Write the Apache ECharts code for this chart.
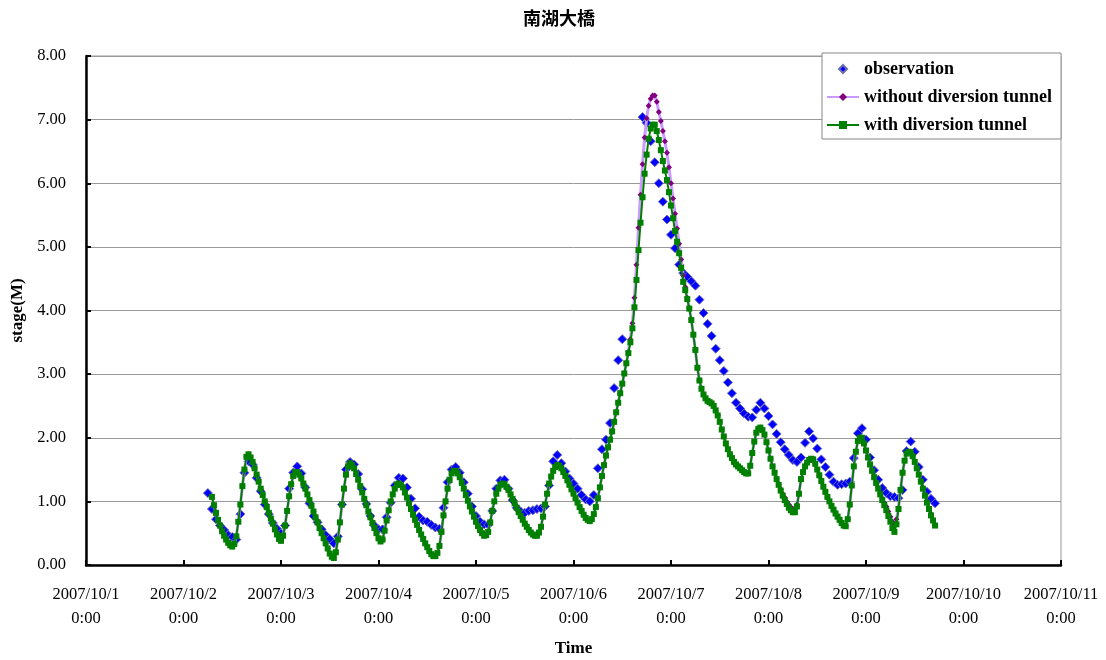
<!DOCTYPE html>
<html>
<head>
<meta charset="utf-8">
<script src="https://cdn.jsdelivr.net/npm/echarts@6.0.0/dist/echarts.min.js"></script>
<style>
html,body{margin:0;padding:0;background:#fff;}
#chart{width:1106px;height:660px;}
</style>
</head>
<body>
<div id="chart"></div>
<script>
// hours counted from 2007/10/1 0:00
const obsStartHour = 30;   // observation: hourly
const obsStepHour = 1;
const simStartHour = 31;   // simulations: every half hour
const simStepHour = 0.5;

const dayLabels = ['2007/10/1','2007/10/2','2007/10/3','2007/10/4','2007/10/5','2007/10/6','2007/10/7','2007/10/8','2007/10/9','2007/10/10','2007/10/11'];
const timeLabel = '0:00';

const observation = [
  1.13,0.88,0.72,0.62,0.55,0.47,0.44,0.40,0.80,1.45,
  1.63,1.58,1.37,1.16,0.95,0.80,0.66,0.57,0.50,0.62,
  1.20,1.45,1.55,1.44,1.22,0.97,0.77,0.67,0.56,0.47,
  0.41,0.34,0.45,0.95,1.50,1.62,1.58,1.43,1.19,0.96,
  0.77,0.62,0.56,0.56,0.75,0.98,1.25,1.37,1.36,1.22,
  1.04,0.89,0.76,0.70,0.68,0.63,0.59,0.57,0.90,1.30,
  1.50,1.54,1.45,1.30,1.12,0.92,0.77,0.68,0.64,0.63,
  0.85,1.20,1.33,1.34,1.20,1.02,0.90,0.84,0.82,0.85,
  0.86,0.88,0.89,0.92,1.25,1.63,1.73,1.60,1.47,1.36,
  1.28,1.20,1.10,1.03,1.00,1.10,1.52,1.82,1.97,2.23,
  2.78,3.22,3.55,null,null,null,null,7.04,6.95,6.66,
  6.33,6.00,5.71,5.43,5.19,4.98,4.72,4.59,4.53,4.46,
  4.39,4.17,3.96,3.79,3.60,3.40,3.22,3.05,2.87,2.70,
  2.55,2.46,2.38,2.33,2.32,2.44,2.55,2.46,2.34,2.21,
  2.06,1.93,1.82,1.73,1.65,1.62,1.69,1.92,2.10,1.99,
  1.83,1.66,1.54,1.42,1.31,1.26,1.27,1.28,1.31,1.68,
  2.07,2.15,1.97,1.69,1.49,1.34,1.21,1.13,1.08,1.07,
  1.05,1.18,1.79,1.94,1.78,1.54,1.34,1.15,1.04,0.97
];

const withoutTunnel = [
  1.07,0.94,0.82,0.71,0.62,0.53,0.46,0.40,0.35,0.31,
  0.29,0.33,0.45,0.68,0.95,1.24,1.50,1.70,1.74,1.69,
  1.62,1.52,1.42,1.31,1.20,1.10,1.00,0.91,0.82,0.73,
  0.65,0.56,0.48,0.41,0.38,0.46,0.62,0.85,1.08,1.27,
  1.40,1.46,1.46,1.42,1.36,1.28,1.20,1.11,1.02,0.93,
  0.84,0.75,0.67,0.58,0.50,0.42,0.34,0.26,0.18,0.13,
  0.11,0.20,0.40,0.67,0.95,1.20,1.42,1.55,1.60,1.57,
  1.52,1.43,1.34,1.24,1.14,1.04,0.94,0.84,0.75,0.66,
  0.58,0.50,0.42,0.37,0.40,0.54,0.70,0.86,1.00,1.11,
  1.20,1.26,1.28,1.26,1.22,1.14,1.06,0.97,0.88,0.79,
  0.71,0.63,0.55,0.48,0.41,0.34,0.28,0.22,0.17,0.14,
  0.14,0.19,0.30,0.52,0.78,1.00,1.20,1.34,1.44,1.48,
  1.48,1.44,1.38,1.29,1.20,1.10,1.01,0.92,0.84,0.76,
  0.68,0.61,0.55,0.50,0.46,0.47,0.52,0.67,0.85,1.00,
  1.12,1.20,1.26,1.28,1.27,1.23,1.18,1.11,1.04,0.97,
  0.90,0.83,0.77,0.71,0.65,0.60,0.55,0.51,0.48,0.46,
  0.46,0.51,0.60,0.76,0.95,1.12,1.28,1.39,1.48,1.54,
  1.57,1.56,1.52,1.46,1.40,1.33,1.26,1.19,1.12,1.05,
  0.98,0.91,0.85,0.79,0.74,0.71,0.69,0.72,0.80,0.91,
  1.05,1.22,1.40,1.57,1.72,1.85,1.97,2.10,2.25,2.40,
  2.55,2.70,2.85,3.01,3.17,3.35,3.55,3.80,4.20,4.72,
  5.30,5.82,6.30,6.72,7.02,7.22,7.33,7.38,7.38,7.28,
  7.12,6.98,6.82,6.66,6.48,6.25,6.00,5.76,5.52,5.29,
  5.05,4.80,4.55,4.37,4.20,4.04,3.86,3.62,3.38,3.10,
  2.90,2.77,2.68,2.62,2.58,2.56,2.54,2.50,2.43,2.35,
  2.25,2.13,2.02,1.91,1.82,1.74,1.68,1.62,1.58,1.55,
  1.52,1.49,1.46,1.44,1.44,1.56,1.76,1.94,2.08,2.14,
  2.16,2.12,2.05,1.93,1.80,1.67,1.55,1.46,1.36,1.27,
  1.19,1.12,1.06,1.00,0.95,0.91,0.88,0.88,0.95,1.12,
  1.35,1.46,1.55,1.61,1.65,1.67,1.66,1.59,1.50,1.41,
  1.32,1.23,1.15,1.07,1.00,0.93,0.87,0.81,0.76,0.71,
  0.66,0.62,0.61,0.72,0.95,1.25,1.55,1.78,1.95,2.00,
  2.00,1.91,1.80,1.69,1.58,1.48,1.39,1.30,1.22,1.13,
  1.05,0.98,0.92,0.84,0.76,0.68,0.62,0.72,0.90,1.18,
  1.45,1.64,1.75,1.78,1.77,1.71,1.63,1.53,1.43,1.33,
  1.22,1.11,1.00,0.90,0.80,0.71,0.63
];

const withTunnel = [
  1.07,0.94,0.82,0.71,0.62,0.53,0.46,0.40,0.35,0.31,
  0.29,0.33,0.45,0.68,0.95,1.24,1.50,1.70,1.74,1.69,
  1.62,1.52,1.42,1.31,1.20,1.10,1.00,0.91,0.82,0.73,
  0.65,0.56,0.48,0.41,0.38,0.46,0.62,0.85,1.08,1.27,
  1.40,1.46,1.46,1.42,1.36,1.28,1.20,1.11,1.02,0.93,
  0.84,0.75,0.67,0.58,0.50,0.42,0.34,0.26,0.18,0.13,
  0.11,0.20,0.40,0.67,0.95,1.20,1.42,1.55,1.60,1.57,
  1.52,1.43,1.34,1.24,1.14,1.04,0.94,0.84,0.75,0.66,
  0.58,0.50,0.42,0.37,0.40,0.54,0.70,0.86,1.00,1.11,
  1.20,1.26,1.28,1.26,1.22,1.14,1.06,0.97,0.88,0.79,
  0.71,0.63,0.55,0.48,0.41,0.34,0.28,0.22,0.17,0.14,
  0.14,0.19,0.30,0.52,0.78,1.00,1.20,1.34,1.44,1.48,
  1.48,1.44,1.38,1.29,1.20,1.10,1.01,0.92,0.84,0.76,
  0.68,0.61,0.55,0.50,0.46,0.47,0.52,0.67,0.85,1.00,
  1.12,1.20,1.26,1.28,1.27,1.23,1.18,1.11,1.04,0.97,
  0.90,0.83,0.77,0.71,0.65,0.60,0.55,0.51,0.48,0.46,
  0.46,0.51,0.60,0.76,0.95,1.12,1.28,1.39,1.48,1.54,
  1.57,1.56,1.52,1.46,1.40,1.33,1.26,1.19,1.12,1.05,
  0.98,0.91,0.85,0.79,0.74,0.71,0.69,0.72,0.80,0.91,
  1.05,1.22,1.40,1.57,1.72,1.85,1.97,2.10,2.25,2.40,
  2.55,2.70,2.85,3.01,3.17,3.33,3.50,3.72,4.05,4.48,
  4.95,5.38,5.78,6.15,6.45,6.70,6.86,6.92,6.92,6.82,
  6.68,6.52,6.35,6.20,6.05,5.86,5.65,5.45,5.25,5.08,
  4.90,4.67,4.45,4.32,4.18,4.03,3.85,3.62,3.38,3.10,
  2.90,2.77,2.68,2.62,2.58,2.56,2.54,2.50,2.43,2.35,
  2.25,2.13,2.02,1.91,1.82,1.74,1.68,1.62,1.58,1.55,
  1.52,1.49,1.46,1.44,1.44,1.56,1.76,1.94,2.08,2.14,
  2.16,2.12,2.05,1.93,1.80,1.67,1.55,1.45,1.35,1.26,
  1.17,1.09,1.02,0.96,0.90,0.86,0.83,0.83,0.92,1.12,
  1.35,1.46,1.55,1.61,1.65,1.67,1.66,1.59,1.50,1.41,
  1.32,1.23,1.15,1.07,1.00,0.93,0.87,0.81,0.76,0.71,
  0.66,0.62,0.61,0.72,0.95,1.25,1.55,1.78,1.95,2.00,
  2.00,1.91,1.80,1.69,1.58,1.48,1.38,1.29,1.20,1.11,
  1.02,0.94,0.86,0.77,0.68,0.58,0.52,0.64,0.88,1.18,
  1.45,1.64,1.75,1.78,1.77,1.71,1.62,1.52,1.42,1.31,
  1.20,1.09,0.98,0.88,0.78,0.70,0.62
];

function toPairs(arr, start, step) {
  return arr.map(function (v, i) { return [start + i * step, v]; });
}

const serif = 'Liberation Serif';
const chart = echarts.init(document.getElementById('chart'), null, {renderer: 'canvas'});

const option = {
  animation: false,
  backgroundColor: '#fff',
  title: {
    text: '南湖大橋',
    left: 518,
    top: 4,
    textStyle: {fontFamily: 'Noto Sans CJK TC', fontWeight: 'bold', fontSize: 18, color: '#000'}
  },
  legend: {
    orient: 'vertical',
    left: 822,
    top: 53,
    padding: [7, 9, 5, 4],
    itemWidth: 32,
    itemHeight: 10,
    itemGap: 10,
    backgroundColor: '#fff',
    borderColor: '#888',
    borderWidth: 1,
    textStyle: {fontFamily: serif, fontWeight: 'bold', fontSize: 18, color: '#000'},
    data: ['observation', 'without diversion tunnel', 'with diversion tunnel']
  },
  grid: {
    left: 86, right: 45, top: 56, bottom: 95,
    containLabel: false,
    outerBoundsMode: 'none',
    show: true, borderColor: '#999', borderWidth: 1
  },
  xAxis: {
    type: 'value',
    min: 0, max: 240, interval: 24,
    name: 'Time',
    nameLocation: 'middle',
    nameGap: 75,
    nameTextStyle: {fontFamily: serif, fontWeight: 'bold', fontSize: 17, color: '#000'},
    axisLine: {onZero: false, lineStyle: {color: '#000', width: 2.5}},
    axisTick: {inside: true, length: 5, lineStyle: {color: '#000', width: 2}},
    axisLabel: {
      margin: 18,
      lineHeight: 24,
      fontFamily: serif, fontSize: 16.5, color: '#000',
      formatter: function (v) { return dayLabels[Math.round(v / 24)] + '\n' + timeLabel; }
    },
    splitLine: {show: false}
  },
  yAxis: {
    type: 'value',
    min: 0, max: 8, interval: 1,
    name: 'stage(M)',
    nameLocation: 'middle',
    nameGap: 57,
    nameRotate: 90,
    nameTextStyle: {fontFamily: serif, fontWeight: 'bold', fontSize: 17, color: '#000'},
    axisLine: {show: true, lineStyle: {color: '#000', width: 2.5}},
    axisTick: {show: true, inside: true, length: 5, lineStyle: {color: '#000', width: 2}},
    axisLabel: {
      margin: 20,
      fontFamily: serif, fontSize: 16.5, color: '#000',
      formatter: function (v) { return v.toFixed(2); }
    },
    splitLine: {show: true, lineStyle: {color: '#999', width: 1}}
  },
  series: [
    {
      name: 'observation',
      type: 'line',
      data: toPairs(observation, obsStartHour, obsStepHour),
      showAllSymbol: true,
      connectNulls: false,
      symbol: 'diamond',
      symbolSize: 9,
      lineStyle: {opacity: 0, width: 0},
      itemStyle: {color: '#0000ff', borderColor: '#6f6fb0', borderWidth: 1},
      z: 2
    },
    {
      name: 'without diversion tunnel',
      type: 'line',
      data: toPairs(withoutTunnel, simStartHour, simStepHour),
      showAllSymbol: true,
      symbol: 'diamond',
      symbolSize: 6,
      lineStyle: {color: '#cc99ff', width: 3},
      itemStyle: {color: '#800080', borderWidth: 0},
      z: 3
    },
    {
      name: 'with diversion tunnel',
      type: 'line',
      data: toPairs(withTunnel, simStartHour, simStepHour),
      showAllSymbol: true,
      symbol: 'rect',
      symbolSize: 6,
      lineStyle: {color: '#008000', width: 2},
      itemStyle: {color: '#008000', borderWidth: 0},
      z: 4
    }
  ]
};
chart.setOption(option);
</script>
</body>
</html>
